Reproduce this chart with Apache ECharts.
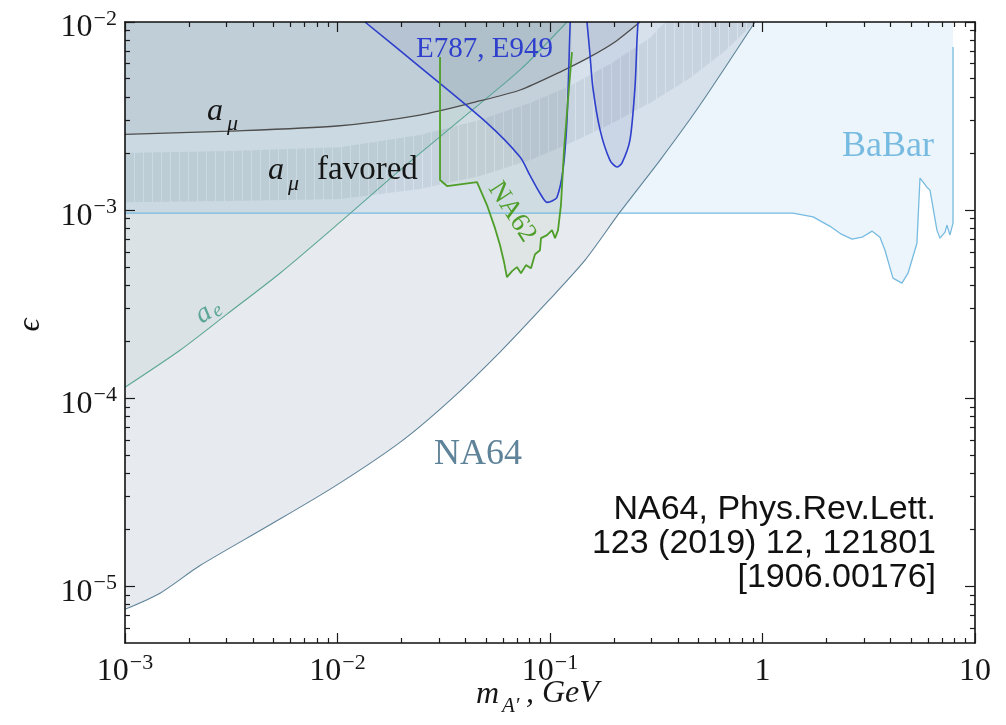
<!DOCTYPE html>
<html>
<head>
<meta charset="utf-8">
<script src="https://cdn.jsdelivr.net/npm/echarts@6/dist/echarts.min.js"></script>
<style>
  html, body { margin: 0; padding: 0; background: #fff; }
  #chart { width: 1006px; height: 725px; }
</style>
</head>
<body>
<div id="chart"></div>
<script>
// Dark photon A' -> invisible: excluded regions in the (m_A', epsilon) plane.
// Masses in GeV, couplings as plain epsilon values.

const X_MIN = 1e-3, X_MAX = 10;
const Y_MIN = 5e-6, Y_MAX = 1e-2;
const X_TICKS = [1e-3, 1e-2, 1e-1, 1, 10];
const Y_TICKS = [1e-5, 1e-4, 1e-3, 1e-2];

// NA64 90% CL upper limit
const NA64_MASS = [0.001, 0.001462, 0.002254, 0.00466, 0.00953, 0.01968, 0.03383, 0.0582, 0.0989, 0.1462, 0.2133, 0.3297, 0.508, 0.922];
const NA64_EPS  = [7.55e-6, 9.2e-6, 1.29e-5, 2.08e-5, 3.36e-5, 5.83e-5, 9.75e-5, 1.76e-4, 3.32e-4, 5.42e-4, 9.75e-4, 1.845e-3, 3.62e-3, 1e-2];

// electron g-2
const AE_MASS = [0.001, 0.001815, 0.00302, 0.00536, 0.01028, 0.01968, 0.0377, 0.0723, 0.1202];
const AE_EPS  = [1.144e-4, 1.80e-4, 2.80e-4, 4.62e-4, 8.63e-4, 1.633e-3, 3.01e-3, 5.56e-3, 1e-2];

// muon g-2 exclusion
const AMU_MASS = [0.001, 0.00312, 0.00995, 0.0244, 0.0444, 0.0723, 0.1115, 0.154, 0.202, 0.265];
const AMU_EPS  = [2.53e-3, 2.63e-3, 2.80e-3, 3.20e-3, 3.75e-3, 4.35e-3, 5.42e-3, 6.52e-3, 7.83e-3, 1e-2];

// muon g-2 favoured band: upper and lower edges
const FAV_UP_MASS = [0.001, 0.00312, 0.01028, 0.0244, 0.0468, 0.0805, 0.1242, 0.1916, 0.2955, 0.3477];
const FAV_UP_EPS  = [2.01e-3, 2.06e-3, 2.16e-3, 2.51e-3, 3.01e-3, 3.71e-3, 4.57e-3, 5.98e-3, 8.22e-3, 1e-2];
const FAV_LO_MASS = [0.001, 0.00312, 0.01028, 0.0244, 0.0468, 0.0805, 0.1242, 0.1916, 0.2955, 0.456, 0.666, 0.922];
const FAV_LO_EPS  = [1.10e-3, 1.117e-3, 1.146e-3, 1.294e-3, 1.517e-3, 1.845e-3, 2.27e-3, 2.86e-3, 3.71e-3, 5.04e-3, 7.01e-3, 1e-2];

// BaBar mono-photon search
const BABAR_MASS = [0.001, 0.5, 1.39, 1.73, 2.08, 2.35, 2.64, 2.94, 3.28, 3.57, 3.77, 4.11, 4.53, 4.84, 5.33, 5.51, 5.94, 6.14, 6.62, 6.84, 7.23, 7.38, 7.62, 7.88, 7.88];
const BABAR_EPS  = [9.63e-4, 9.63e-4, 9.63e-4, 9.2e-4, 8.2e-4, 7.45e-4, 7.01e-4, 7.18e-4, 7.73e-4, 7.18e-4, 6.12e-4, 4.35e-4, 4.09e-4, 4.62e-4, 6.67e-4, 1.48e-3, 1.324e-3, 1.277e-3, 7.83e-4, 7.10e-4, 7.64e-4, 8.32e-4, 7.36e-4, 8.53e-4, 7.36e-3];

// E787 / E949 (K+ -> pi+ A'), two mass windows
const E949A_MASS = [0.01347, 0.0244, 0.0506, 0.0723, 0.0805, 0.0897, 0.0968, 0.1022, 0.1079, 0.1151, 0.1202, 0.1241, 0.1245];
const E949A_EPS  = [1e-2, 5.77e-3, 2.90e-3, 1.914e-3, 1.53e-3, 1.23e-3, 1.10e-3, 1.117e-3, 1.17e-3, 1.633e-3, 3.01e-3, 9.06e-3, 1e-2];
const E949B_MASS = [0.1493, 0.154, 0.159, 0.172, 0.1914, 0.2066, 0.218, 0.2379, 0.2512, 0.2567, 0.2594];
const E949B_EPS  = [1e-2, 6.84e-3, 4.51e-3, 2.67e-3, 1.845e-3, 1.694e-3, 1.778e-3, 2.36e-3, 4.51e-3, 8.02e-3, 1e-2];

// NA62 (K+ -> pi+ A')
const NA62_MASS = [0.03037, 0.03037, 0.03276, 0.04535, 0.0505, 0.0551, 0.0582, 0.0608, 0.0627, 0.0663, 0.0699, 0.0730, 0.0771, 0.0814, 0.0850, 0.0897, 0.0907, 0.0968, 0.1022, 0.1056, 0.1091, 0.1126, 0.1164, 0.1215, 0.1269];
const NA62_EPS  = [6.52e-3, 1.445e-3, 1.343e-3, 1.41e-3, 1.064e-3, 8.02e-4, 6.51e-4, 5.28e-4, 4.40e-4, 4.74e-4, 4.98e-4, 4.62e-4, 5.10e-4, 4.91e-4, 5.83e-4, 6.12e-4, 7.10e-4, 7.36e-4, 7.83e-4, 7.10e-4, 7.83e-4, 1.064e-3, 2.08e-3, 3.85e-3, 6.92e-3];

// ---------------------------------------------------------------------------
// Both axes are drawn in log10 space so ticks can be placed exactly.
const L = Math.log10;
const pairs = (xs, ys) => xs.map((x, i) => [L(x), L(ys[i])]);

function minorTicks(lo, hi) {
  const out = [];
  for (let d = Math.floor(L(lo)); d < Math.ceil(L(hi)); d++) {
    for (let k = 2; k <= 9; k++) {
      const v = d + L(k);
      if (v > L(lo) + 1e-9 && v < L(hi) - 1e-9) out.push(v);
    }
  }
  return out;
}

const SERIF = '"Liberation Serif", "DejaVu Serif", serif';
const INK = '#161616';

function powLabel(v) {
  const n = Math.round(v);
  if (n === 0) return '{b|1}';
  if (n === 1) return '{b|10}';
  return '{b|10}{s|\u2212' + Math.abs(n) + '}';
}
const labelRich = {
  b: { fontFamily: SERIF, fontSize: 32, lineHeight: 36, verticalAlign: 'bottom', color: INK },
  s: { fontFamily: SERIF, fontSize: 22, lineHeight: 18, verticalAlign: 'top', color: INK, padding: [0, 0, 0, 1] }
};

const frameLine = { show: true, onZero: false, lineStyle: { color: '#111', width: 1.6 } };
const tickStyle = { color: '#1a1a1a', width: 1.2 };

function axisPair(pos, lo, hi, majors, labelCfg) {
  const min = L(lo), max = L(hi);
  return [
    {
      type: 'value', position: pos, min, max, z: 10,
      axisLine: frameLine, splitLine: { show: false },
      axisTick: { show: true, inside: true, length: 10, lineStyle: tickStyle, customValues: majors.map(L) },
      axisLabel: labelCfg ? Object.assign({ show: true, customValues: majors.map(L), formatter: powLabel, rich: labelRich }, labelCfg) : { show: false }
    },
    {
      type: 'value', position: pos, min, max, z: 10,
      axisLine: { show: false, onZero: false }, splitLine: { show: false },
      axisTick: { show: true, inside: true, length: 5, lineStyle: tickStyle, customValues: minorTicks(lo, hi) },
      axisLabel: { show: false }
    }
  ];
}

const xAxes = [
  ...axisPair('bottom', X_MIN, X_MAX, X_TICKS, { margin: 9 }),
  ...axisPair('top', X_MIN, X_MAX, X_TICKS, null)
];
const yAxes = [
  ...axisPair('left', Y_MIN, Y_MAX, Y_TICKS, { margin: 8, padding: [8, 0, 0, 0] }),
  ...axisPair('right', Y_MIN, Y_MAX, Y_TICKS, null)
];

// region above a curve, outlined by the curve itself
function region(name, xs, ys, line, width, fill, smooth) {
  return {
    type: 'line', name, data: pairs(xs, ys),
    xAxisIndex: 0, yAxisIndex: 0,
    showSymbol: false, symbol: 'none', silent: true, clip: true,
    smooth: smooth || false,
    lineStyle: { color: line, width },
    areaStyle: { color: fill, origin: 'end', opacity: 1 }
  };
}

// vertical hatching for the favoured band
const hatch = document.createElement('canvas');
hatch.width = 9; hatch.height = 4;
(function () {
  const g = hatch.getContext('2d');
  g.fillStyle = 'rgba(110,118,128,0.16)';
  g.fillRect(0, 0, 8, 4);
  g.fillStyle = 'rgba(255,255,255,0.28)';
  g.fillRect(8, 0, 1, 4);
})();

const favUp = pairs(FAV_UP_MASS, FAV_UP_EPS);
const favLo = pairs(FAV_LO_MASS, FAV_LO_EPS);
const bandSeries = {
  type: 'custom', name: 'a_mu favored', coordinateSystem: 'cartesian2d',
  xAxisIndex: 0, yAxisIndex: 0, silent: true, clip: true,
  data: favUp,
  renderItem: function (params, api) {
    if (params.dataIndex !== 0) return null;
    const pts = favUp.map(p => api.coord(p)).concat(favLo.slice().reverse().map(p => api.coord(p)));
    return { type: 'polygon', shape: { points: pts }, style: { fill: { type: 'pattern', image: hatch, repeat: 'repeat' } } };
  }
};

const series = [
  region('BaBar', BABAR_MASS, BABAR_EPS, '#77bbe0', 1.3, 'rgba(165,208,236,0.22)', false),
  region('NA64', NA64_MASS, NA64_EPS, '#5f8399', 1.1, 'rgba(105,120,155,0.155)', 0.25),
  region('a_e', AE_MASS, AE_EPS, '#5ca697', 1.1, 'rgba(70,140,125,0.075)', 0.25),
  bandSeries,
  region('a_mu', AMU_MASS, AMU_EPS, '#4d4d4d', 1.3, 'rgba(70,85,100,0.085)', 0.25),
  region('E787, E949 (1)', E949A_MASS, E949A_EPS, '#2d3fcc', 1.6, 'rgba(70,80,170,0.08)', 0.25),
  region('E787, E949 (2)', E949B_MASS, E949B_EPS, '#2d3fcc', 1.6, 'rgba(70,80,170,0.08)', 0.25),
  region('NA62', NA62_MASS, NA62_EPS, '#4f9e2a', 1.8, 'rgba(110,160,60,0.06)', false)
];

function txt(x, y, text, size, color, opts) {
  return Object.assign({
    type: 'text', x, y, silent: true, z: 20,
    style: Object.assign({
      text, fontSize: size, fontFamily: SERIF, fill: color,
      textAlign: 'left', textVerticalAlign: 'middle'
    }, (opts && opts.style) || {})
  }, opts && opts.el || {});
}

const graphics = [
  // a_mu curve label
  txt(207, 112, 'a', 32, INK, { style: { fontStyle: 'italic' } }),
  txt(227, 124, '\u03bc', 22, INK, { style: { fontStyle: 'italic' } }),
  // favoured band label
  txt(268, 171, 'a', 32, INK, { style: { fontStyle: 'italic' } }),
  txt(288, 184, '\u03bc', 22, INK, { style: { fontStyle: 'italic' } }),
  txt(317, 170, 'favored', 33, INK),
  // experiments
  txt(416, 49, 'E787, E949', 29, '#2d3fcc'),
  txt(512, 212, 'NA62', 27, '#4f9e2a', { style: { textAlign: 'center' }, el: { rotation: -57 * Math.PI / 180 } }),
  {
    type: 'group', x: 209, y: 313, rotation: 33 * Math.PI / 180, silent: true, z: 20,
    children: [
      txt(-12, -2, 'a', 28, '#5ca697', { style: { fontStyle: 'italic' } }),
      txt(4, 3, 'e', 20, '#5ca697', { style: { fontStyle: 'italic' } })
    ]
  },
  txt(434, 455, 'NA64', 36, '#5f8399'),
  txt(842, 147, 'BaBar', 36, '#77bbe0'),
  // reference
  {
    type: 'text', x: 936, y: 493, silent: true, z: 20,
    style: {
      text: 'NA64, Phys.Rev.Lett.\n123 (2019) 12, 121801\n[1906.00176]',
      fontSize: 34, fontFamily: '"Liberation Sans", Arial, sans-serif', fill: '#111',
      textAlign: 'right', textVerticalAlign: 'top', lineHeight: 34
    }
  },
  // axis titles
  txt(476, 695, 'm', 32, INK, { style: { fontStyle: 'italic' } }),
  txt(502, 706, 'A\u2032', 21, INK, { style: { fontStyle: 'italic' } }),
  txt(526, 694, ', GeV', 32, INK, { style: { fontStyle: 'italic' } }),
  txt(31, 325, '\u03f5', 32, INK, { style: { fontStyle: 'italic', textAlign: 'center' }, el: { rotation: Math.PI / 2 } })
];

const chart = echarts.init(document.getElementById('chart'), null, { renderer: 'canvas' });
chart.setOption({
  animation: false,
  backgroundColor: '#ffffff',
  grid: { left: 125, right: 31, top: 22, bottom: 82, containLabel: false, outerBoundsMode: 'none' },
  xAxis: xAxes,
  yAxis: yAxes,
  series,
  graphic: graphics
});
</script>
</body>
</html>
